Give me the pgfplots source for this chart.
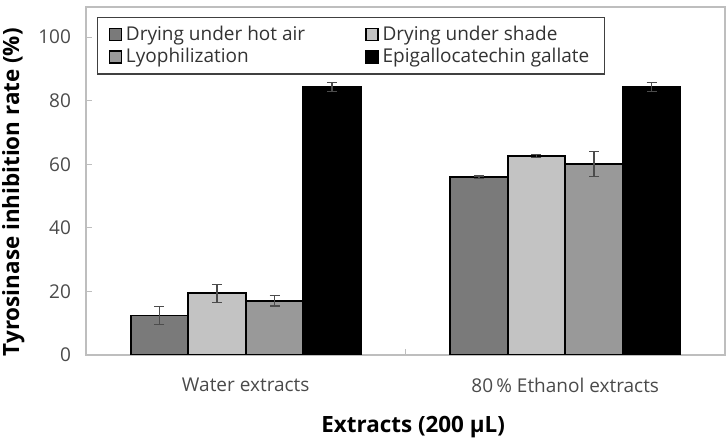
\documentclass[border=0pt]{standalone}
\usepackage{fontspec}
\setmainfont{Open Sans}
\usepackage{pgfplots}
\pgfplotsset{compat=1.18}

\definecolor{hotair}{HTML}{7A7A7A}
\definecolor{shade}{HTML}{C3C3C3}
\definecolor{lyo}{HTML}{999999}
\definecolor{egcg}{HTML}{000000}
\definecolor{framegray}{HTML}{BEBEBE}
\definecolor{ticktext}{HTML}{4A4A4A}

\begin{document}
\begin{tikzpicture}
\begin{axis}[
  scale only axis,
  width=319.5pt, height=174pt,
  xmin=-0.5, xmax=1.5,
  ymin=0, ymax=109.5,
  ytick={0,20,...,100},
  xtick={0,1},
  xticklabels={Water extracts, 80\,\% Ethanol extracts},
  major x tick style={draw=none},
  minor xtick={0.5},
  minor tick length=3pt,
  major tick length=3pt,
  tick style={framegray, line width=0.6pt},
  tick align=inside,
  ytick pos=left,
  xtick pos=bottom,
  axis line style={framegray, line width=0.7pt},
  tick label style={text=ticktext},
  yticklabel style={font=\fontsize{9.5}{11}\selectfont, xshift=-4pt},
  xticklabel style={font=\fontsize{9.5}{11}\selectfont, yshift=-8pt},
  /pgf/number format/assume math mode=true,
  ylabel={\textbf{Tyrosinase inhibition rate (\%)}},
  xlabel={\textbf{Extracts (200 µL)}},
  label style={font=\fontsize{11.2}{13}\selectfont},
  ylabel style={at={(ticklabel cs:0.468)}},
  xlabel style={at={(axis description cs:0.512,0)}, anchor=base, yshift=-38.5pt},
  legend columns=2,
  legend cell align=left,
  legend style={
    at={(0.0172,0.972)}, anchor=north west,
    draw=black!75, line width=0.6pt,
    font=\fontsize{9.5}{11}\selectfont, text=black!80,
    inner xsep=5.5pt, inner ysep=2.2pt,
    /tikz/every even column/.append style={column sep=28pt},
    row sep=-1.5pt,
  },
  legend image code/.code={
    \draw[#1, draw=black, line width=0.7pt] (0pt,-3pt) rectangle (6pt,3pt);
  },
  every axis plot/.append style={draw=black, line width=0.9pt},
  error bars/error bar style={black!70, line width=0.6pt},
  error bars/error mark options={rotate=90, mark size=2.5pt, black!70, line width=0.6pt},
]
% bars are placed at their own x positions around each group centre (0 and 1)
\addplot[ybar, bar width=0.18, bar shift=0, fill=hotair,
  error bars/.cd, y dir=both, y explicit]
  coordinates {(-0.27,12.4) +- (0,2.9) (0.73,55.9) +- (0,0.4)};
\addlegendentry{Drying under hot air}
\addplot[ybar, bar width=0.18, bar shift=0, fill=shade,
  error bars/.cd, y dir=both, y explicit]
  coordinates {(-0.09,19.4) +- (0,2.8) (0.91,62.6) +- (0,0.5)};
\addlegendentry{Drying under shade}
\addplot[ybar, bar width=0.18, bar shift=0, fill=lyo,
  error bars/.cd, y dir=both, y explicit]
  coordinates {(0.09,17.0) +- (0,1.6) (1.09,60.1) +- (0,3.9)};
\addlegendentry{Lyophilization}
\addplot[ybar, bar width=0.18, bar shift=0, fill=egcg,
  error bars/.cd, y dir=both, y explicit]
  coordinates {(0.27,84.4) +- (0,1.4) (1.27,84.4) +- (0,1.4)};
\addlegendentry{Epigallocatechin gallate}
\draw[framegray, line width=0.7pt] (rel axis cs:0,1) -- (rel axis cs:1,1) -- (rel axis cs:1,0);
\end{axis}
\pgfresetboundingbox
\path (current axis.south west) ++(-43pt,-41.5pt) coordinate (bbA);
\path (current axis.north east) ++(1.5pt,3.5pt) coordinate (bbB);
\useasboundingbox (bbA) rectangle (bbB);
\end{tikzpicture}
\end{document}
